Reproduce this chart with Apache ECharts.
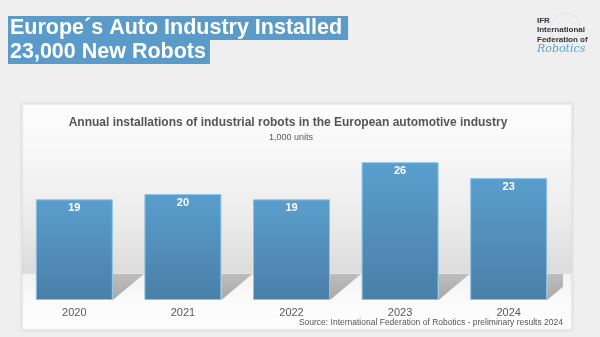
<!DOCTYPE html>
<html>
<head>
<meta charset="utf-8">
<script src="https://cdn.jsdelivr.net/npm/echarts@6/dist/echarts.min.js"></script>
<style>
  html, body { margin: 0; padding: 0; background: #efefef; }
  #chart { width: 600px; height: 337px; }
</style>
</head>
<body>
<div id="chart"></div>
<script>
// Annual robot installations, European automotive industry (1,000 units)
const years = ['2020', '2021', '2022', '2023', '2024'];
const installations = [19, 20, 19, 26, 23];

const headline = ['Europe\u00b4s Auto Industry Installed', '23,000 New Robots'];
const chartTitle = 'Annual installations of industrial robots in the European automotive industry';
const unitNote = '1,000 units';
const sourceNote = 'Source: International Federation of Robotics - preliminary results 2024';
const logoLines = ['IFR', 'International', 'Federation of'];
const logoScript = 'Robotics';

const FONT = '"Liberation Sans", Arial, sans-serif';
const BAR_W = 77;
const chart = echarts.init(document.getElementById('chart'), null, { renderer: 'canvas' });

// Floor shadow cast by each bar toward the back-right of the plot
function renderShadow(params, api) {
  const base = api.coord([api.value(0), 0]);
  const right = base[0] + BAR_W / 2;
  const y0 = base[1];
  const depth = 26, skew = 31;
  const clipX = params.coordSys.x + params.coordSys.width;
  let pts;
  if (right + skew <= clipX) {
    pts = [[right, y0], [right, y0 - depth], [right + skew, y0 - depth]];
  } else {
    const yc = y0 - depth * (clipX - right) / skew;
    pts = [[right, y0], [right, y0 - depth], [clipX, y0 - depth], [clipX, yc]];
  }
  return {
    type: 'polygon',
    shape: { points: pts },
    style: {
      fill: new echarts.graphic.LinearGradient(0, 0, 0, 1, [
        { offset: 0, color: '#bdbdbd' },
        { offset: 1, color: '#a9a9a9' }
      ])
    }
  };
}

chart.setOption({
  backgroundColor: '#efefef',
  animation: false,
  grid: { left: 20, right: 37, top: 141, bottom: 37 },
  xAxis: {
    type: 'category',
    data: years,
    axisLine: { show: false },
    axisTick: { show: false },
    axisLabel: { color: '#5a5a5a', fontSize: 11, fontFamily: FONT, margin: 7 }
  },
  yAxis: {
    type: 'value',
    min: 0,
    max: 30,
    show: false,
    splitLine: { show: false }
  },
  series: [
    {
      type: 'custom',
      renderItem: renderShadow,
      data: installations.map((v, i) => [i, v]),
      silent: true,
      z: 1
    },
    {
      type: 'bar',
      data: installations,
      barWidth: BAR_W,
      itemStyle: {
        color: new echarts.graphic.LinearGradient(0, 0, 0, 1, [
          { offset: 0, color: '#5a9ecd' },
          { offset: 1, color: '#4a7fa7' }
        ]),
        borderColor: '#8cc3e6',
        borderWidth: 1
      },
      label: {
        show: true,
        position: 'insideTop',
        distance: 3,
        color: '#ffffff',
        fontWeight: 'bold',
        fontSize: 11,
        fontFamily: FONT
      },
      z: 5
    }
  ],
  graphic: [
    // chart panel: back wall fading to grey, then a pale floor
    {
      type: 'rect', z: -10,
      shape: { x: 22, y: 104, width: 550, height: 226 },
      style: {
        fill: new echarts.graphic.LinearGradient(0, 0, 0, 1, [
          { offset: 0, color: '#fdfdfd' },
          { offset: 0.2, color: '#f8f8f8' },
          { offset: 0.5, color: '#ececec' },
          { offset: 0.745, color: '#dcdcdc' },
          { offset: 0.755, color: '#f3f3f3' },
          { offset: 0.88, color: '#fbfbfb' },
          { offset: 1, color: '#fefefe' }
        ]),
        stroke: '#e2e2e2', lineWidth: 1,
        shadowColor: 'rgba(0,0,0,0.08)', shadowBlur: 3
      }
    },
    // headline
    {
      type: 'text', left: 8, top: 16, z: 10,
      style: {
        text: headline[0], fill: '#ffffff', font: 'bold 21.5px ' + FONT,
        backgroundColor: '#5b9bc9', padding: [1, 6, 1, 2]
      }
    },
    {
      type: 'text', left: 8, top: 40, z: 10,
      style: {
        text: headline[1], fill: '#ffffff', font: 'bold 21.5px ' + FONT,
        backgroundColor: '#5b9bc9', padding: [1, 4, 1, 2]
      }
    },
    // logo
    {
      type: 'circle', z: 1,
      shape: { cx: 565, cy: 28, r: 15 },
      style: { fill: 'none', stroke: '#d6e8f3', lineWidth: 1 }
    },
    {
      type: 'text', left: 537, top: 16, z: 10,
      style: {
        text: logoLines.join('\n'), fill: '#333333', font: 'bold 8px ' + FONT,
        lineHeight: 9.5
      }
    },
    {
      type: 'text', left: 537, top: 44, z: 10,
      style: {
        text: logoScript, fill: '#5ea3cf', font: 'italic 11px "DejaVu Serif", serif'
      }
    },
    // chart heading
    {
      type: 'text', x: 288, y: 117, z: 10,
      style: {
        text: chartTitle, fill: '#555555', font: 'bold 12px ' + FONT,
        textAlign: 'center'
      }
    },
    {
      type: 'text', x: 291, y: 133, z: 10,
      style: { text: unitNote, fill: '#5a5a5a', font: '9px ' + FONT, textAlign: 'center' }
    },
    // source
    {
      type: 'text', right: 37, top: 318, z: 10,
      style: { text: sourceNote, fill: '#555555', font: '8.5px ' + FONT }
    }
  ]
});
</script>
</body>
</html>
